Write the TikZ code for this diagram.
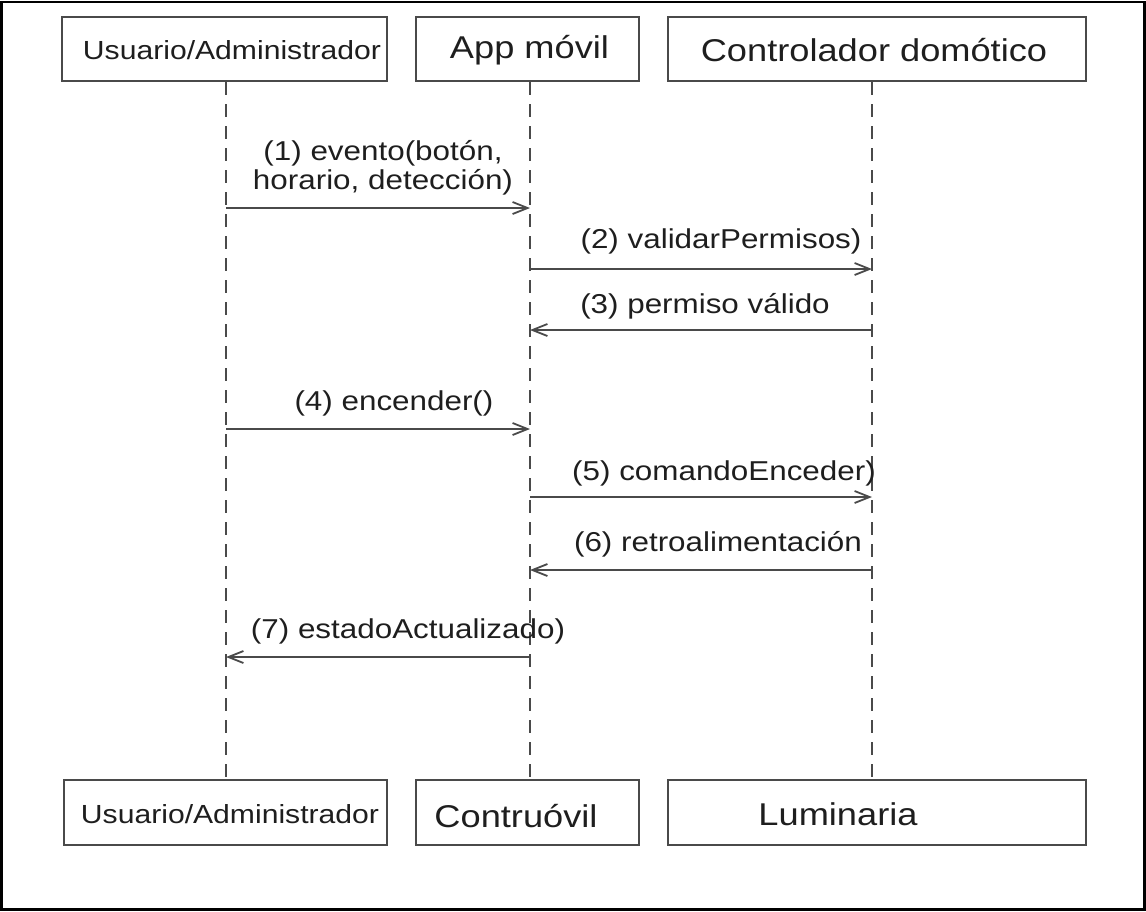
\documentclass[tikz,border=0pt]{standalone}
\usepackage{fontspec}
\setmainfont{Liberation Sans}[FakeStretch=1.15]
\usetikzlibrary{arrows.meta}
\definecolor{ink}{HTML}{1E1E1E}
\definecolor{edge}{HTML}{4A4A4A}
\begin{document}
\begin{tikzpicture}[x=1pt,y=-1pt,
  boxshape/.style={draw=edge, line width=2pt, rectangle, inner sep=0pt},
  boxtext/.style={text=ink, inner sep=0pt, font=\fontsize{31.5}{36}\selectfont},
  smalltext/.style={text=ink, inner sep=0pt, font=\fontsize{26.2}{30}\selectfont},
  msgtext/.style={text=ink, inner sep=0pt, align=center, font=\fontsize{27.3}{29}\selectfont},
  lifeline/.style={draw=edge, line width=1.8pt, dash pattern=on 13pt off 9pt},
  msg/.style={draw=edge, line width=1.8pt, -{Straight Barb[length=15pt,width=12pt,line width=1.8pt]}}
]
\useasboundingbox (0,0) rectangle (1146,911);
\draw[black, line width=2.6pt] (1.5,1.8) rectangle (1144.5,909.5);

% top boxes
\node[boxshape, minimum width=325pt, minimum height=64pt] (t1) at (224.5,49) {};
\node[boxshape, minimum width=223pt, minimum height=64pt] (t2) at (527.5,49) {};
\node[boxshape, minimum width=418pt, minimum height=64pt] (t3) at (877,49) {};
\node[smalltext] (t1x) at (232,50) {Usuario/Administrador};
\node[boxtext] (t2x) at (529.5,50) {App móvil};
\node[boxtext] (t3x) at (874,50) {Controlador domótico};

% bottom boxes
\node[boxshape, minimum width=323pt, minimum height=65pt] (b1) at (225.5,812.5) {};
\node[boxshape, minimum width=223pt, minimum height=65pt] (b2) at (527.5,812.5) {};
\node[boxshape, minimum width=418pt, minimum height=65pt] (b3) at (877,812.5) {};
\node[smalltext] (b1x) at (230,814) {Usuario/Administrador};
\node[boxtext] (b2x) at (516,816) {Contruóvil};
\node[boxtext] (b3x) at (838,814) {Luminaria};

% lifeline positions
\coordinate (L1) at (226,0);
\coordinate (L2) at (530,0);
\coordinate (L3) at (872,0);
\draw[lifeline] (t1.south -| L1) -- (b1.north -| L1);
\draw[lifeline] (t2.south -| L2) -- (b2.north -| L2);
\draw[lifeline] (t3.south -| L3) -- (b3.north -| L3);

% message rows
\coordinate (r1) at (0,208);
\coordinate (r2) at (0,269);
\coordinate (r3) at (0,330);
\coordinate (r4) at (0,429);
\coordinate (r5) at (0,497);
\coordinate (r6) at (0,570);
\coordinate (r7) at (0,657);

\draw[msg] (L1 |- r1) -- (L2 |- r1);
\draw[msg] (L2 |- r2) -- (L3 |- r2);
\draw[msg] (L3 |- r3) -- (L2 |- r3);
\draw[msg] (L1 |- r4) -- (L2 |- r4);
\draw[msg] (L2 |- r5) -- (L3 |- r5);
\draw[msg] (L3 |- r6) -- (L2 |- r6);
\draw[msg] (L2 |- r7) -- (L1 |- r7);

\node[msgtext] (m1) at (383,168) {(1) evento(botón,\\horario, detección)};
\node[msgtext] (m2) at (721,241) {(2) validarPermisos)};
\node[msgtext] (m3) at (705,306) {(3) permiso válido};
\node[msgtext] (m4) at (394,403) {(4) encender()};
\node[msgtext] (m5) at (724,473) {(5) comandoEnceder)};
\node[msgtext] (m6) at (718,544) {(6) retroalimentación};
\node[msgtext] (m7) at (408,631) {(7) estadoActualizado)};
\end{tikzpicture}
\end{document}
